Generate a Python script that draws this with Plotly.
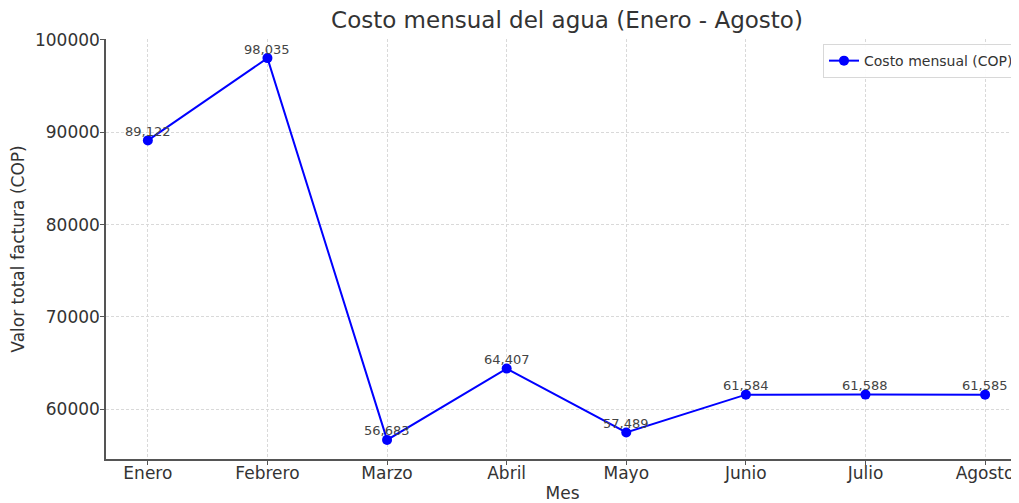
import plotly.graph_objects as go

meses = ["Enero", "Febrero", "Marzo", "Abril", "Mayo", "Junio", "Julio", "Agosto"]
costos = [89122, 98035, 56683, 64407, 57489, 61584, 61588, 61585]
etiquetas = [f"{v:,}" for v in costos]

x_idx = list(range(len(meses)))

W, H = 1011, 495
ML, MT, MB, MR = 98, 31, 44, 0

fig = go.Figure()
fig.add_trace(go.Scatter(
    x=x_idx, y=costos,
    mode="lines+markers",
    name="Costo mensual (COP)",
    line=dict(color="#0000ff", width=2),
    marker=dict(color="#0000ff", size=10),
))

for xi, yi, lab in zip(x_idx, costos, etiquetas):
    fig.add_annotation(x=xi, y=yi, text=lab, showarrow=False,
                       yshift=9, yanchor="middle", xanchor="center",
                       font=dict(family="DejaVu Sans", size=13, color="#444444"))

fig.update_layout(
    width=W, height=H,
    margin=dict(l=ML, r=MR, t=MT, b=MB),
    paper_bgcolor="white", plot_bgcolor="white",
    font=dict(family="DejaVu Sans", color="#333333"),
    title=dict(text="Costo mensual del agua (Enero - Agosto)",
               x=559 / W, xanchor="center",
               y=1 - 12 / H, yanchor="middle",
               font=dict(size=23, color="#333333")),
    showlegend=True,
    legend=dict(x=1.0, y=0.988, xanchor="right", yanchor="top",
                bgcolor="rgba(255,255,255,0.9)", bordercolor="#d8d8d8", borderwidth=1,
                font=dict(size=14, color="#333333")),
)

axis_common = dict(
    showgrid=True, gridcolor="#d9d9d9", griddash="3px,2px", gridwidth=1,
    showline=True, linecolor="#555555", linewidth=1.5,
    ticks="outside", ticklen=4, tickcolor="#555555", tickwidth=1,
    tickfont=dict(size=17, color="#333333"),
    zeroline=False,
)

fig.update_xaxes(
    tickmode="array", tickvals=x_idx, ticktext=meses,
    range=[-0.35, -0.35 + (W - ML - MR) / 119.6],
    title=dict(text="Mes", font=dict(size=17, color="#333333"), standoff=6),
    **axis_common,
)
fig.update_yaxes(
    range=[54615, 100103],
    tickvals=[60000, 70000, 80000, 90000, 100000],
    tickformat="d",
    title=dict(text="Valor total factura (COP)", font=dict(size=17, color="#333333"), standoff=8),
    **axis_common,
)

try:
    fig.update_xaxes(ticklabelstandoff=-6)
except Exception:
    pass
try:
    fig.update_yaxes(ticklabelstandoff=-3)
except Exception:
    pass

fig.write_html("out.html")
